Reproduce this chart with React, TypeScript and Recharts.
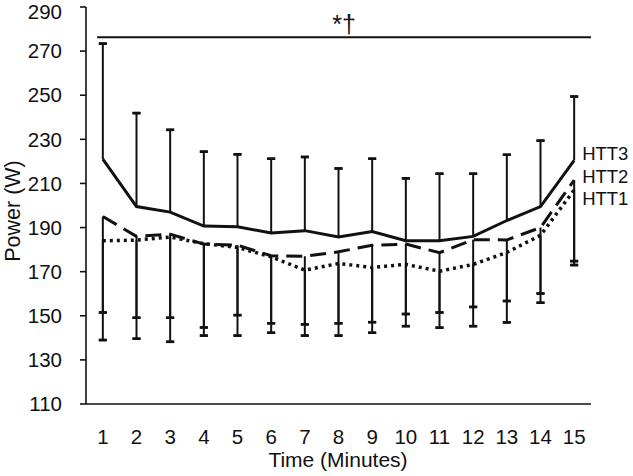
import { ErrorBar, Line, LineChart, ReferenceLine, XAxis, YAxis } from "recharts";

const minutes = [1, 2, 3, 4, 5, 6, 7, 8, 9, 10, 11, 12, 13, 14, 15];
const yTicks = [110, 130, 150, 170, 190, 210, 230, 250, 270, 290];

// means
const htt3 = [221, 199.5, 197, 190.7, 190.4, 187.5, 188.6, 185.7, 188.2, 184, 184, 186, 193.2, 199.5, 220.5];
const htt2 = [195, 186, 187, 182.5, 182, 177.2, 177, 179, 182, 182.5, 178.6, 184.5, 184.4, 190, 211.5];
const htt1 = [184, 184.3, 185.7, 182.7, 181, 176.7, 170.7, 173.7, 171.9, 173.3, 170.2, 173.3, 178.7, 186.5, 207];

// SD ends
const htt3Upper = [273.4, 241.9, 234.3, 224.4, 223.2, 221.2, 222, 216.8, 221.2, 212.3, 214.4, 214.4, 223, 229.4, 249.4];
const htt2Lower = [139, 139.6, 138.2, 141, 141, 142.3, 141, 141, 142.3, 145.3, 144.6, 145.3, 147, 155.9, 173];
const htt1Lower = [151.5, 149.1, 149.1, 144.7, 150.3, 146.6, 146.1, 146.6, 147.1, 150.8, 151.5, 154, 156.7, 160.1, 174.8];

const sigLevel = 276.3;

const data = minutes.map((m, i) => ({
  minute: m,
  htt3: htt3[i],
  htt2: htt2[i],
  htt1: htt1[i],
  htt3Upper: htt3Upper[i],
  htt2Lower: htt2Lower[i],
  htt1Lower: htt1Lower[i],
}));

const ink = "#111";
const font = "'Liberation Sans', Arial, sans-serif";

const endLabel = (name: string, dy: number) => (props: any) => {
  if (props.index !== minutes.length - 1) return null;
  return (
    <text x={props.x + 8} y={props.y + dy} fontSize={18.5} fill={ink} fontFamily={font}>
      {name}
    </text>
  );
};

const noCap = () => [0, 0];

export default function App() {
  return (
    <div style={{ position: "absolute", left: 0, top: 0, fontFamily: font }}>
      <LineChart width={633} height={476} data={data} margin={{ top: 7, right: 42, bottom: 0, left: 0 }}>
        <XAxis
          dataKey="minute"
          type="number"
          domain={[0.5, 15.5]}
          ticks={minutes}
          tickLine={false}
          tickSize={6}
          tickMargin={19}
          height={72}
          axisLine={{ stroke: ink, strokeWidth: 1.6 }}
          tick={{ fontSize: 20.5, fill: ink }}
          label={{
            content: () => (
              <text x={338} y={467} textAnchor="middle" fontSize={21} fill={ink} fontFamily={font}>
                Time (Minutes)
              </text>
            ),
          }}
        />
        <YAxis
          domain={[110, 290]}
          ticks={yTicks}
          width={86}
          tickSize={6}
          tickMargin={18}
          axisLine={{ stroke: ink, strokeWidth: 1.6 }}
          tickLine={{ stroke: ink, strokeWidth: 1.6 }}
          tick={{ fontSize: 20.5, fill: ink }}
          label={{
            content: () => (
              <text
                transform="translate(20,211) rotate(-90)"
                textAnchor="middle"
                fontSize={21.5}
                fill={ink}
                fontFamily={font}
              >
                Power (W)
              </text>
            ),
          }}
        />
        <ReferenceLine
          segment={[
            { x: 0.83, y: sigLevel },
            { x: 15.5, y: sigLevel },
          ]}
          stroke={ink}
          strokeWidth={2}
          label={{ value: "*†", position: "top", fontSize: 25, fill: ink, offset: 4 }}
        />

        {/* error bar stems (no caps) */}
        <Line dataKey="htt2" stroke="none" dot={false} activeDot={false} isAnimationActive={false}>
          <ErrorBar dataKey={(d: any) => [d.htt2 - d.htt2Lower, 0]} width={0} stroke={ink} strokeWidth={2} isAnimationActive={false} />
        </Line>
        <Line dataKey="htt1" stroke="none" dot={false} activeDot={false} isAnimationActive={false}>
          <ErrorBar dataKey={(d: any) => [d.htt1 - d.htt1Lower, 0]} width={0} stroke={ink} strokeWidth={2} isAnimationActive={false} />
        </Line>
        <Line dataKey="htt3" stroke="none" dot={false} activeDot={false} isAnimationActive={false}>
          <ErrorBar dataKey={(d: any) => [0, d.htt3Upper - d.htt3]} width={0} stroke={ink} strokeWidth={2} isAnimationActive={false} />
        </Line>

        {/* caps at the SD ends */}
        <Line dataKey="htt3Upper" stroke="none" dot={false} activeDot={false} isAnimationActive={false}>
          <ErrorBar dataKey={noCap} width={4} stroke={ink} strokeWidth={2.5} isAnimationActive={false} />
        </Line>
        <Line dataKey="htt2Lower" stroke="none" dot={false} activeDot={false} isAnimationActive={false}>
          <ErrorBar dataKey={noCap} width={4} stroke={ink} strokeWidth={2.5} isAnimationActive={false} />
        </Line>
        <Line dataKey="htt1Lower" stroke="none" dot={false} activeDot={false} isAnimationActive={false}>
          <ErrorBar dataKey={noCap} width={4} stroke={ink} strokeWidth={2.5} isAnimationActive={false} />
        </Line>

        {/* means */}
        <Line
          dataKey="htt1"
          stroke={ink}
          strokeWidth={3.5}
          strokeDasharray="3 4"
          dot={false}
          activeDot={false}
          isAnimationActive={false}
          label={endLabel("HTT1", 15)}
        />
        <Line
          dataKey="htt2"
          stroke={ink}
          strokeWidth={3}
          strokeDasharray="16 8"
          dot={false}
          activeDot={false}
          isAnimationActive={false}
          label={endLabel("HTT2", 3)}
        />
        <Line
          dataKey="htt3"
          stroke={ink}
          strokeWidth={3}
          dot={false}
          activeDot={false}
          isAnimationActive={false}
          label={endLabel("HTT3", 0)}
        />
      </LineChart>
    </div>
  );
}
